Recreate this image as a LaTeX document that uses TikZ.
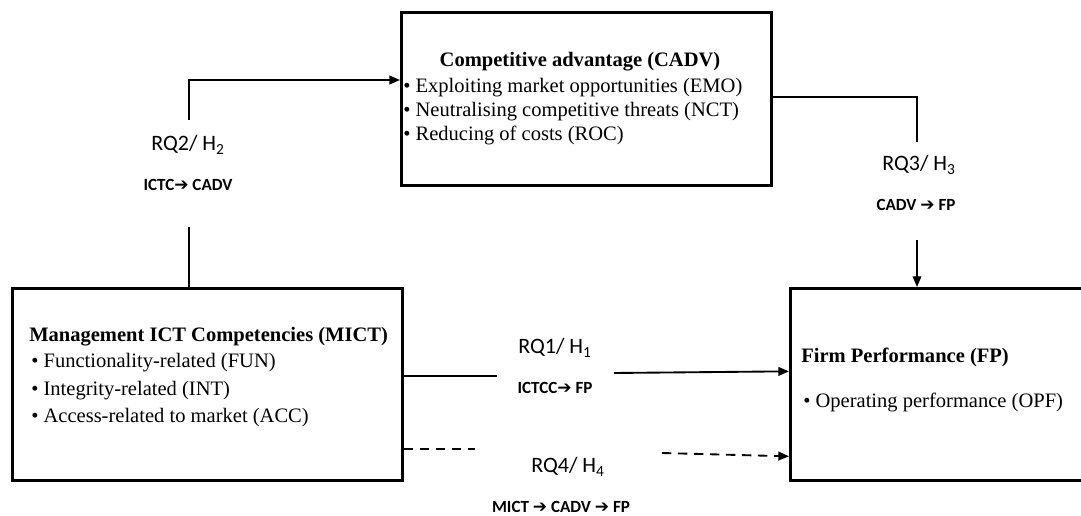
\documentclass[tikz,border=0pt]{standalone}
\usepackage{fontspec}
\setmainfont{Liberation Serif}
\newfontfamily\calfont{Carlito}
\newfontfamily\arrfont{DejaVu Sans}
\usetikzlibrary{arrows.meta}
\newcommand\relarrow{{\arrfont\bfseries\symbol{"2794}}}
\tikzset{
  box/.style={draw, line width=2pt, inner sep=0pt, anchor=north west},
  ttl/.style={inner sep=0pt, font=\bfseries\fontsize{15.4}{18}\selectfont},
  itm/.style={inner sep=0pt, anchor=base west, font=\fontsize{15.4}{18}\selectfont},
  rq/.style={inner sep=0pt, font=\calfont\fontsize{16.5}{19}\selectfont},
  rel/.style={inner sep=0pt, anchor=base, font=\calfont\bfseries\fontsize{12.8}{14}\selectfont},
  conn/.style={line width=1.4pt},
  thin/.style={line width=1pt},
  arr/.style={-{Triangle[length=8pt,width=6.5pt]}},
  dsh/.style={dash pattern=on 7pt off 5pt}
}
\begin{document}
\begin{tikzpicture}[x=0.75pt,y=-0.75pt]
\useasboundingbox (0,0) rectangle (1081,516);
% boxes
\node[box, minimum width=277.5pt, minimum height=129.75pt] (cadv) at (400,11) {};
\node[box, minimum width=292.5pt, minimum height=144pt] (mict) at (11,287) {};
\node[box, minimum width=229.5pt, minimum height=144pt] (fp) at (789,287) {};
% CADV text
\node[ttl, anchor=base] (cadvT) at (580,67) {Competitive advantage (CADV)};
\node[itm] (cadv1) at (403,93) {• Exploiting market opportunities (EMO)};
\node[itm] (cadv2) at (403,117) {• Neutralising competitive threats (NCT)};
\node[itm] (cadv3) at (403,141) {• Reducing of costs (ROC)};
% MICT text
\node[ttl, anchor=base west] (mictT) at (29,342) {Management ICT Competencies (MICT)};
\node[itm] (mict1) at (31,368) {• Functionality-related (FUN)};
\node[itm] (mict2) at (31,395) {• Integrity-related (INT)};
\node[itm] (mict3) at (31,422) {• Access-related to market (ACC)};
% FP text
\node[ttl, anchor=base west] (fpT) at (801,363) {Firm Performance (FP)};
\node[itm] (fp1) at (803,407) {• Operating performance (OPF)};
% RQ2
\coordinate (a2) at (189,227);
\coordinate (b2) at (189,120);
\coordinate (c2) at (189,80);
\draw[conn] (a2) -- (a2 |- mict.north);
\draw[conn, arr] (b2) -- (c2) -- (c2 -| cadv.west);
\node[rq] (rq2) at (188,145) {RQ2/ H\textsubscript{2}};
\node[rel] (h2) at (188,191) {ICTC\relarrow{} CADV};
% RQ3
\coordinate (c3) at (917,97);
\coordinate (b3) at (917,142);
\coordinate (a3) at (917,240);
\draw[thin] (cadv.east |- c3) -- (c3) -- (b3);
\draw[thin, arr] (a3) -- (a3 |- fp.north);
\node[rq] (rq3) at (919,165) {RQ3/ H\textsubscript{3}};
\node[rel] (h3) at (916,211) {CADV \relarrow{} FP};
% RQ1
\coordinate (r1a) at (497,376);
\coordinate (r1b) at (614,373);
\draw[conn] (mict.east |- r1a) -- (r1a);
\draw[conn, arr] (r1b) -- ([yshift=9.75pt]fp.west);
\node[rq] (rq1) at (555,348) {RQ1/ H\textsubscript{1}};
\node[rel] (h1) at (555,393) {ICTCC\relarrow{} FP};
% RQ4
\coordinate (r4a) at (475,449);
\coordinate (r4b) at (662,453);
\draw[conn, dsh] (mict.east |- r4a) -- (r4a);
\draw[conn, dsh, arr] (r4b) -- ([yshift=-54pt]fp.west);
\node[rq] (rq4) at (568,467) {RQ4/ H\textsubscript{4}};
\node[rel] (h4) at (561,512) {MICT \relarrow{} CADV \relarrow{} FP};
\end{tikzpicture}
\end{document}
